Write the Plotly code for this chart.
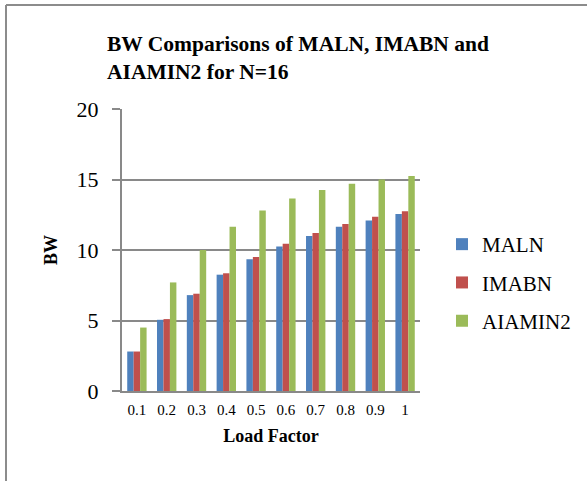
import plotly.graph_objects as go

# Load factor categories and bandwidth per scheme
load_factor = ["0.1", "0.2", "0.3", "0.4", "0.5", "0.6", "0.7", "0.8", "0.9", "1"]
maln = [2.8, 5.05, 6.8, 8.25, 9.35, 10.25, 11.0, 11.65, 12.1, 12.55]
imabn = [2.8, 5.1, 6.9, 8.35, 9.5, 10.45, 11.2, 11.85, 12.35, 12.75]
aiamin2 = [4.5, 7.7, 10.0, 11.65, 12.8, 13.65, 14.25, 14.7, 15.0, 15.25]

series = [
    ("MALN", maln, "#4F81BD"),
    ("IMABN", imabn, "#C0504D"),
    ("AIAMIN2", aiamin2, "#9BBB59"),
]

FONT = "Liberation Serif"
GRID = "#898989"

fig = go.Figure()
for name, vals, color in series:
    fig.add_trace(go.Bar(
        x=load_factor, y=vals, name=name, legendgroup=name,
        marker=dict(color=color, line=dict(width=0)),
    ))

fig.update_layout(
    width=587, height=481,
    margin=dict(l=122, r=167, t=109, b=90),
    paper_bgcolor="white", plot_bgcolor="white",
    font=dict(family=FONT, color="black"),
    barmode="group", bargap=0.35, bargroupgap=0,
    title=dict(
        text="<b>BW Comparisons of MALN, IMABN and<br>AIAMIN2 for N=16</b>",
        font=dict(family=FONT, size=21.5, color="black"),
        x=107 / 587, xanchor="left", xref="container",
        y=1 - 51 / 481, yanchor="top", yref="container",
    ),
    legend=dict(
        x=442 / 587, xanchor="left", xref="container",
        y=1 - 224 / 481, yanchor="top", yref="container",
        font=dict(family=FONT, size=21, color="black"),
        traceorder="grouped", tracegroupgap=8,
        itemwidth=30,
    ),
    showlegend=True,
)

fig.update_xaxes(
    showline=True, linecolor=GRID, linewidth=2,
    showgrid=False, ticks="",
    tickfont=dict(family=FONT, size=15, color="black"),
    ticklabelstandoff=4,
    title=dict(text="<b>Load Factor</b>", font=dict(family=FONT, size=18), standoff=12),
)
fig.update_yaxes(
    range=[0, 20], dtick=5, tick0=0,
    showline=True, linecolor=GRID, linewidth=2,
    showgrid=True, gridcolor=GRID, gridwidth=2,
    ticks="outside", ticklen=8, tickcolor=GRID, tickwidth=2,
    tickfont=dict(family=FONT, size=22, color="black"),
    ticklabelstandoff=9,
    title=dict(text="<b>BW</b>", font=dict(family=FONT, size=18), standoff=14),
    zeroline=False,
)

# Outer frame: left and top edges of the chart border
fig.add_shape(type="line", xref="paper", yref="paper",
              x0=-116 / 298, x1=(587 - 122) / 298 + 0.1, y0=1 + 104 / 282, y1=1 + 104 / 282,
              line=dict(color="#8c8c8c", width=2), layer="above")
fig.add_shape(type="line", xref="paper", yref="paper",
              x0=-116 / 298, x1=-116 / 298, y0=1 + 104 / 282, y1=-0.5,
              line=dict(color="#8c8c8c", width=2), layer="above")

fig.write_html("out.html")
